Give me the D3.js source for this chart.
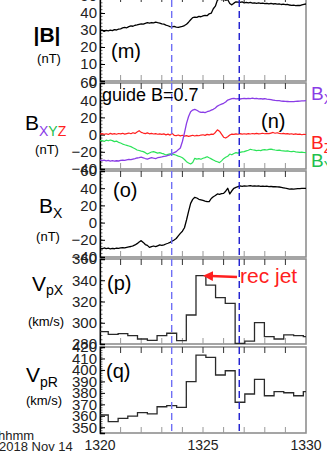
<!DOCTYPE html>
<html><head><meta charset="utf-8">
<script src="https://cdn.jsdelivr.net/npm/d3@7"></script>
<style>body{margin:0;background:#fff;overflow:hidden}svg{display:block;font-family:"Liberation Sans",Arial,sans-serif}</style>
</head><body><svg id="c" width="327" height="470"></svg>
<script>
// ---------------- data ----------------
const tStart = 1320, tEnd = 1330;
const xTickLabels = [1320, 1325, 1330];
const minuteTicks = [1321, 1322, 1323, 1324, 1325, 1326, 1327, 1328, 1329];
const dashTimes = [1323.48, 1326.76];
const sampleTimes = d3.range(101).map(i => tStart + i / 10);

const Bmag = [29.4,29.9,29.2,29.8,29.5,29.9,29.6,30.2,30.0,30.5,
  30.7,31.2,31.5,31.3,32.0,32.4,32.2,32.8,33.0,33.3,
  33.6,33.4,33.9,34.3,34.0,34.4,34.2,34.6,34.3,34.1,
  33.6,33.4,32.9,32.5,32.0,31.8,32.1,31.7,31.6,31.9,
  32.1,32.6,33.4,34.6,36.0,37.3,37.6,37.4,38.0,37.8,
  38.3,38.6,38.4,39.5,39.9,42.5,44.0,47.6,48.3,47.8,
  48.0,47.5,47.8,45.6,44.8,45.8,46.6,46.4,46.2,46.5,
  46.0,46.3,45.9,46.2,45.8,46.0,45.7,45.9,45.6,45.8,
  45.5,45.7,45.4,45.6,45.3,45.5,45.2,45.4,45.0,45.2,
  44.9,45.1,44.7,44.5,44.6,44.3,44.5,44.4,44.8,45.1,45.3];

const BX = [-29.5,-30.2,-29.8,-30.5,-30.0,-30.8,-30.3,-30.9,-30.4,-30.7,
  -30.1,-29.6,-30.0,-29.4,-28.8,-29.2,-28.5,-27.9,-27.2,-26.8,
  -26.2,-27.0,-27.8,-28.4,-27.6,-26.8,-27.4,-27.9,-26.9,-26.4,
  -26.0,-25.4,-25.0,-24.3,-23.5,-22.0,-21.0,-19.8,-17.5,-15.5,
  -8.0,2.0,13.0,21.0,26.6,28.5,29.4,28.3,26.8,25.9,
  26.2,25.5,26.6,27.2,28.4,29.4,31.0,33.2,34.4,35.5,
  36.4,38.0,40.2,41.0,41.8,42.2,41.6,41.9,41.4,41.8,
  42.0,41.7,42.2,41.9,42.3,41.8,42.0,41.6,41.9,41.4,
  41.7,41.2,41.0,40.6,40.2,39.8,39.6,39.4,39.0,38.8,
  38.6,38.5,38.3,38.4,38.3,38.6,38.8,39.0,39.2,39.3,39.4];

const BZ = [0.5,1.2,0.3,1.0,0.2,1.4,0.6,1.1,0.4,1.3,
  0.8,1.5,0.6,1.2,1.8,1.0,2.2,1.4,3.0,4.5,
  2.6,1.8,1.2,2.0,0.9,1.5,0.7,1.2,0.4,0.9,
  0.2,0.8,-0.3,0.5,-0.6,1.5,-0.8,-1.2,-0.5,-1.5,
  -0.8,-1.8,-1.2,-2.0,-1.4,-0.8,-1.6,-0.9,-1.3,-0.5,
  -0.2,-0.9,0.3,-0.4,0.6,0.2,2.5,5.5,4.0,0.5,
  -3.0,-4.0,-2.5,-0.5,0.5,0.2,0.9,0.4,1.1,0.6,
  1.0,0.5,1.2,0.7,1.3,0.8,1.4,0.9,1.2,1.6,
  1.0,1.5,1.1,1.8,2.5,1.6,2.2,1.4,1.0,1.5,
  0.8,1.2,0.5,1.0,0.3,0.8,0.2,0.6,-0.2,0.4,0.1];

const BY = [-7.4,-6.8,-7.9,-6.5,-7.2,-6.3,-7.0,-8.2,-7.6,-9.0,
  -9.8,-11.0,-11.8,-12.5,-13.2,-14.0,-15.2,-16.4,-17.9,-18.5,
  -19.2,-19.8,-21.0,-22.6,-21.4,-20.2,-19.8,-20.6,-21.5,-21.0,
  -21.8,-22.5,-23.7,-23.0,-22.4,-22.6,-23.2,-24.0,-25.0,-25.7,
  -27.0,-29.0,-31.5,-33.0,-34.2,-32.5,-27.6,-28.5,-28.0,-28.7,
  -27.5,-26.8,-25.7,-27.0,-28.2,-29.5,-30.8,-31.6,-32.6,-30.5,
  -28.0,-26.4,-25.2,-22.6,-23.5,-22.0,-21.0,-21.5,-20.6,-20.0,
  -19.8,-18.9,-18.2,-17.1,-17.6,-18.0,-18.7,-18.2,-18.7,-17.8,
  -17.5,-17.9,-17.1,-16.8,-17.4,-17.9,-18.3,-18.0,-18.6,-18.9,
  -19.2,-19.0,-19.5,-19.8,-19.4,-20.0,-20.3,-20.6,-20.4,-20.8,-21.0];

const BxLMN = [-29.9,-30.6,-29.5,-30.3,-29.8,-30.5,-29.9,-30.4,-29.6,-30.0,
  -29.5,-29.0,-29.4,-28.8,-28.2,-27.8,-27.0,-26.0,-24.5,-22.5,
  -21.0,-23.0,-25.5,-26.5,-28.8,-28.0,-27.2,-28.0,-27.0,-26.0,
  -26.5,-25.8,-24.9,-24.0,-23.0,-21.5,-20.2,-18.5,-15.5,-12.5,
  -10.0,-6.0,3.0,13.0,22.4,27.0,29.4,28.6,27.1,26.5,
  25.8,25.0,24.5,24.3,28.0,30.1,31.5,33.3,32.8,33.6,
  34.0,36.5,39.9,33.3,37.0,39.9,41.0,41.8,42.6,42.2,
  42.8,42.4,42.6,43.0,42.5,42.8,42.3,42.6,42.2,42.5,
  42.0,42.3,41.9,42.1,41.7,41.9,41.6,41.4,41.0,40.5,
  40.0,39.6,39.0,39.2,39.0,39.3,39.5,39.4,39.7,39.8,39.9];

const stepTimes = [1320.00,1320.40,1320.88,1321.35,1321.82,1322.30,1322.77,1323.24,1323.72,1324.19,1324.66,
  1325.14,1325.61,1326.08,1326.56,1327.03,1327.50,1327.98,1328.45,1328.92,1329.40,1329.87];
const VpX = [291.6,289.1,289.7,287.8,284.7,283.5,287.8,290.1,283.1,307.3,344.3,
  335.5,323.6,318.3,280.6,282.8,300.1,286.9,284.7,288.5,287.8,286.9];
const VpR = [360.7,354.9,357.8,359.8,362.7,361.6,367.9,368.8,367.4,389.8,413.0,
  411.0,395.6,399.3,371.8,379.0,391.8,377.5,381.0,380.1,377.5,381.0];

const ticksM = [0,10,20,30,40,50];
const ticksN = [-40,-20,0,20,40,60];
const ticksP = [280,300,320,340,360];
const ticksQ = [350,360,370,380,390,400,410,420];

// ---------------- drawing ----------------
const svg = d3.select("#c");
const X0 = 100, X1 = 306;
const x = d3.scaleLinear().domain([tStart, tEnd]).range([X0, X1]);

const colPurple = "#8a3de6", colRed = "#ff2020", colGreen = "#2de35a", colGreenTxt = "#22c04e";

const panels = [
  {id:"m", top:-4,  bot:81,  dom:[0,50],     ticks:ticksM, minor:2, label:"(m)", lx:111, ly:58},
  {id:"n", top:83,  bot:169, dom:[-40,60],   ticks:ticksN, minor:4, label:"(n)", lx:261, ly:128},
  {id:"o", top:171, bot:257, dom:[-40,60],   ticks:ticksN, minor:4, label:"(o)", lx:113, ly:197},
  {id:"p", top:259, bot:344, dom:[280,360],  ticks:ticksP, minor:4, label:"(p)", lx:107, ly:290},
  {id:"q", top:347, bot:433, dom:[345,420],  ticks:ticksQ, minor:2, label:"(q)", lx:106, ly:378}
];

panels.forEach(p => {
  p.y = d3.scaleLinear().domain(p.dom).range([p.bot, p.top]);
  const g = svg.append("g");
  p.g = g;
  g.append("clipPath").attr("id","clip-"+p.id).append("rect")
    .attr("x",X0).attr("y",p.top).attr("width",X1-X0).attr("height",p.bot-p.top);
  g.append("rect").attr("x",X0).attr("y",p.top).attr("width",X1-X0).attr("height",p.bot-p.top)
    .attr("fill","none").attr("stroke","#8f8f8f").attr("stroke-width",1.6);
  minuteTicks.forEach(t => {
    g.append("line").attr("x1",x(t)).attr("x2",x(t)).attr("y1",p.top).attr("y2",p.top+6)
      .attr("stroke","#333").attr("stroke-width",1);
    g.append("line").attr("x1",x(t)).attr("x2",x(t)).attr("y1",p.bot).attr("y2",p.bot-6)
      .attr("stroke","#999").attr("stroke-width",1);
  });
  const minorVals = d3.range(p.dom[0], p.dom[1]+0.001, p.minor);
  g.selectAll(null).data(minorVals).enter().append("line")
    .attr("x1",X0).attr("x2",X0+2.5).attr("y1",d=>p.y(d)).attr("y2",d=>p.y(d))
    .attr("stroke","#444").attr("stroke-width",0.8);
  const ax = g.append("g").attr("transform",`translate(${X0},0)`)
    .call(d3.axisLeft(p.y).tickValues(p.ticks).tickSize(-5).tickPadding(3).tickFormat(d3.format("d")));
  ax.select(".domain").attr("stroke","#000").attr("stroke-width",1.3);
  ax.selectAll(".tick line").attr("stroke","#000");
  ax.selectAll(".tick text").attr("font-size",15).attr("fill","#222")
    .attr("font-family","'Liberation Sans',Arial,sans-serif");
  g.append("text").attr("x",p.lx).attr("y",p.ly).attr("font-size",20).text(p.label);
});

function lineIn(p, vals, color, w) {
  p.g.append("path").datum(vals).attr("clip-path",`url(#clip-${p.id})`)
    .attr("fill","none").attr("stroke",color).attr("stroke-width",w).attr("stroke-linejoin","round")
    .attr("d", d3.line().x((d,i)=>x(sampleTimes[i])).y(d=>p.y(d)));
}
function stepIn(p, vals) {
  const pts = stepTimes.map((t,i)=>[t, vals[i]]).concat([[tEnd, vals[vals.length-1]]]);
  p.g.append("path").datum(pts).attr("clip-path",`url(#clip-${p.id})`)
    .attr("fill","none").attr("stroke","#2a2a2a").attr("stroke-width",1.3)
    .attr("d", d3.line().x(d=>x(d[0])).y(d=>p.y(d[1])).curve(d3.curveStepAfter));
}

const [pm, pn, po, pp, pq] = panels;
lineIn(pm, Bmag, "#000", 1.3);
lineIn(pn, BZ, colRed, 1.2);
lineIn(pn, BY, colGreen, 1.2);
lineIn(pn, BX, colPurple, 1.3);
lineIn(po, BxLMN, "#000", 1.3);
stepIn(pp, VpX);
stepIn(pq, VpR);

const dashCols = ["#6f6ff5", "#1c1ccf"];
panels.forEach(p => {
  dashTimes.forEach((t,k) => {
    p.g.append("line").attr("x1",x(t)).attr("x2",x(t)).attr("y1",Math.max(p.top,0)).attr("y2",p.bot)
      .attr("stroke",dashCols[k]).attr("stroke-width",1.4).attr("stroke-dasharray","7,4");
  });
});

svg.selectAll(null).data(xTickLabels).enter().append("text")
  .attr("x",d=>x(d)).attr("y",450).attr("text-anchor","middle").attr("font-size",14).attr("fill","#222")
  .text(d=>d);
svg.append("text").attr("x",-2).attr("y",440).attr("font-size",13).attr("fill","#222").text("hhmm");
svg.append("text").attr("x",-1).attr("y",451).attr("font-size",13).attr("fill","#222").text("2018 Nov 14");

svg.append("text").attr("x",102).attr("y",101).attr("font-size",18).text("guide B=0.7");

function subText(xp, yp, main, sub, color, fs, sfs, dy) {
  const t = svg.append("text").attr("x",xp).attr("y",yp).attr("font-size",fs).attr("fill",color);
  t.append("tspan").text(main);
  t.append("tspan").attr("font-size",sfs).attr("dy",dy).text(sub);
  return t;
}
subText(311, 100, "B", "X", colPurple, 19, 14, 4);
subText(311, 149, "B", "Z", colRed, 19, 14, 4);
subText(311, 167, "B", "Y", colGreenTxt, 19, 14, 4);

svg.append("text").attr("x",47).attr("y",42).attr("text-anchor","middle").attr("font-size",21)
  .attr("font-weight","bold").text("|B|");
svg.append("text").attr("x",49).attr("y",63).attr("text-anchor","middle").attr("font-size",13).text("(nT)");

const bxyz = svg.append("text").attr("x",25).attr("y",130).attr("font-size",21);
bxyz.append("tspan").text("B");
bxyz.append("tspan").attr("font-size",14).attr("dy",6).attr("fill",colPurple).text("X");
bxyz.append("tspan").attr("font-size",14).attr("fill",colGreenTxt).text("Y");
bxyz.append("tspan").attr("font-size",14).attr("fill",colRed).text("Z");
svg.append("text").attr("x",47).attr("y",154).attr("text-anchor","middle").attr("font-size",13).text("(nT)");

subText(39, 213, "B", "X", "#000", 21, 14, 5);
svg.append("text").attr("x",48).attr("y",241).attr("text-anchor","middle").attr("font-size",13).text("(nT)");

subText(32, 291, "V", "pX", "#000", 21, 14, 4);
svg.append("text").attr("x",46).attr("y",326).attr("text-anchor","middle").attr("font-size",13).text("(km/s)");

subText(26, 382, "V", "pR", "#000", 21, 14, 5);
svg.append("text").attr("x",44).attr("y",405).attr("text-anchor","middle").attr("font-size",13).text("(km/s)");

svg.append("defs").append("marker").attr("id","arr").attr("viewBox","0 0 10 10")
  .attr("refX",2).attr("refY",5).attr("markerWidth",4).attr("markerHeight",4).attr("orient","auto-start-reverse")
  .append("path").attr("d","M0,0 L10,5 L0,10 z").attr("fill",colRed);
svg.append("line").attr("x1",237).attr("y1",277).attr("x2",211).attr("y2",276)
  .attr("stroke",colRed).attr("stroke-width",2.5).attr("marker-end","url(#arr)");
svg.append("text").attr("x",240).attr("y",283).attr("font-size",21).attr("fill",colRed).text("rec jet");
</script></body></html>
